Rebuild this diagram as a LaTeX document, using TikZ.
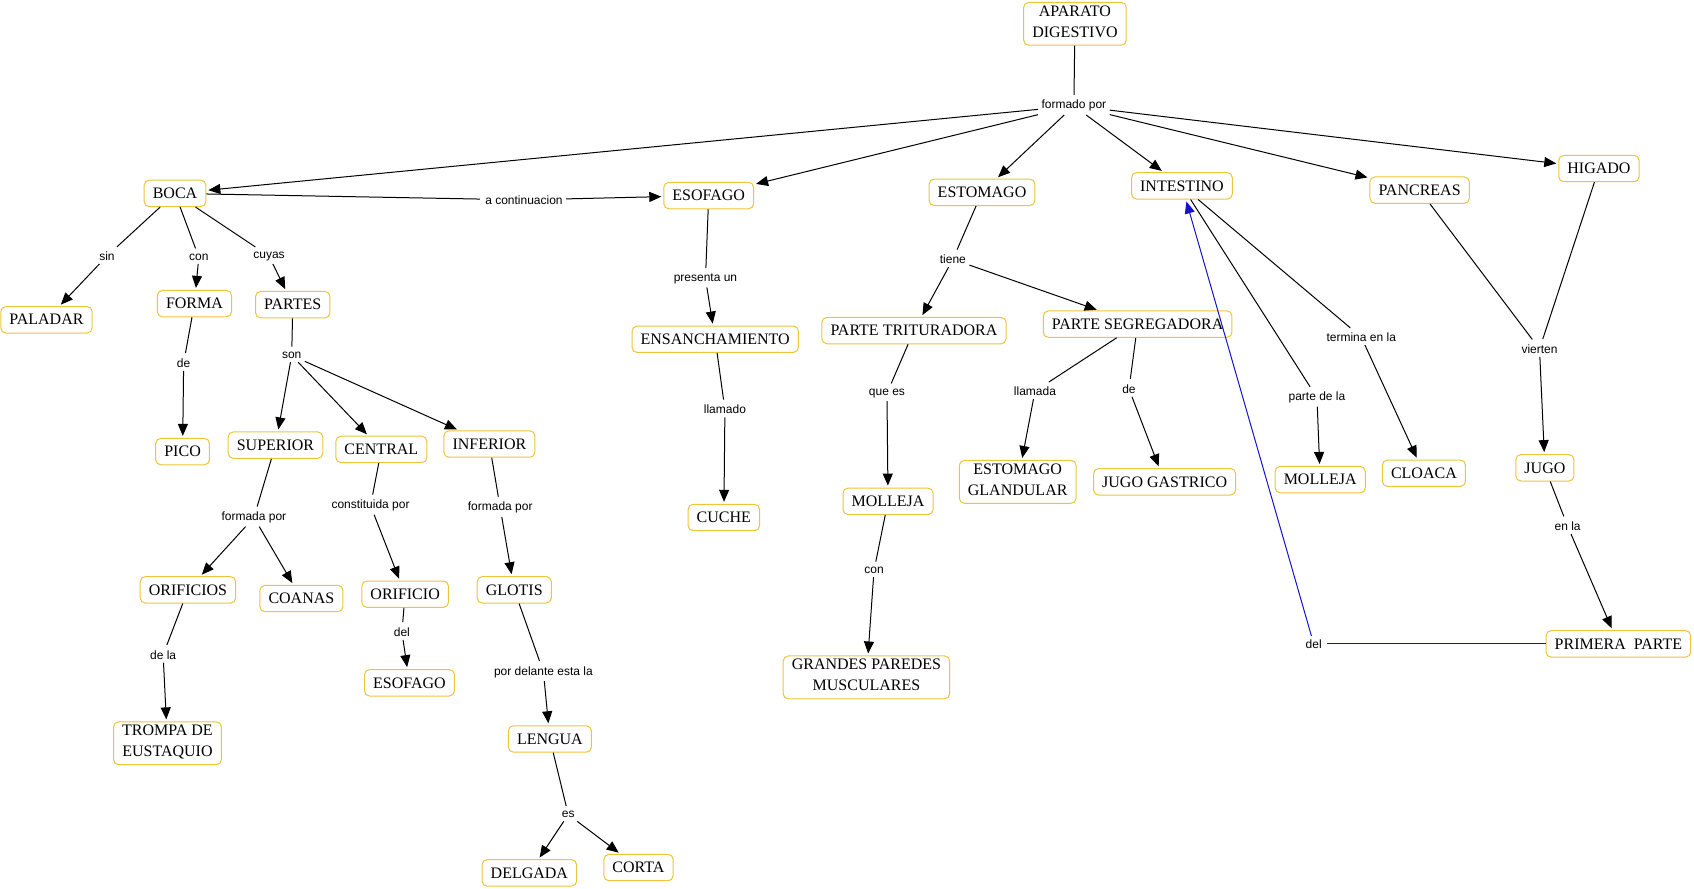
\documentclass[tikz,border=0pt]{standalone}
\usepackage{fontspec}
\setmainfont{Liberation Serif}
\setsansfont{Liberation Sans}
\usetikzlibrary{arrows.meta}
\definecolor{conceptline}{RGB}{238,196,58}
\definecolor{crosslink}{RGB}{20,20,200}
\newcommand{\boxstrut}{\rule[-2.4pt]{0pt}{10pt}}

\tikzset{
  concept/.style={draw=conceptline,rounded corners=2.5pt,fill=white,align=center,
    font=\fontsize{8}{10.5}\selectfont,inner xsep=4.3pt,inner ysep=1.6pt,
    execute at begin node=\boxstrut,execute at end node=\boxstrut},
  link/.style={fill=white,font=\sffamily\fontsize{6}{7}\selectfont,inner sep=1.5pt}
}

\begin{document}
\begin{tikzpicture}[x=0.54pt,y=-0.54pt,>={Triangle[length=6pt,width=5pt]},shorten >=1pt,line width=0.5pt]
  \useasboundingbox (0,0) rectangle (1568,822);
  % concepts
  \node[concept] (aparato)   at (995,22)   {APARATO\\DIGESTIVO};
  \node[concept] (boca)      at (162,179)  {BOCA};
  \node[concept] (esofago)   at (656,181)  {ESOFAGO};
  \node[concept] (estomago)  at (909,178)  {ESTOMAGO};
  \node[concept] (intestino) at (1094,172) {INTESTINO};
  \node[concept] (pancreas)  at (1314,176) {PANCREAS};
  \node[concept] (higado)    at (1480,156) {HIGADO};
  \node[concept] (paladar)   at (43,296)   {PALADAR};
  \node[concept] (forma)     at (180,281)  {FORMA};
  \node[concept] (partes)    at (271,282)  {PARTES};
  \node[concept] (pico)      at (169,418)  {PICO};
  \node[concept] (superior)  at (255,412)  {SUPERIOR};
  \node[concept] (central)   at (353,416)  {CENTRAL};
  \node[concept] (inferior)  at (453,411)  {INFERIOR};
  \node[concept] (orificios) at (174,546)  {ORIFICIOS};
  \node[concept] (coanas)    at (279,554)  {COANAS};
  \node[concept] (orificio)  at (375,550)  {ORIFICIO};
  \node[concept] (esofagob)  at (379,632)  {ESOFAGO};
  \node[concept] (glotis)    at (476,546)  {GLOTIS};
  \node[concept] (trompa)    at (155,688)  {TROMPA DE\\EUSTAQUIO};
  \node[concept] (lengua)    at (509,684)  {LENGUA};
  \node[concept] (delgada)   at (490,808)  {DELGADA};
  \node[concept] (corta)     at (591,803)  {CORTA};
  \node[concept] (ensanch)   at (662,314)  {ENSANCHAMIENTO};
  \node[concept] (cuche)     at (670,479)  {CUCHE};
  \node[concept] (tritura)   at (846,306)  {PARTE TRITURADORA};
  \node[concept] (segrega)   at (1053,300) {PARTE SEGREGADORA};
  \node[concept] (molleja)   at (822,464)  {MOLLEJA};
  \node[concept] (paredes)   at (802,627)  {GRANDES PAREDES\\MUSCULARES};
  \node[concept] (glandular) at (942,446)  {ESTOMAGO\\GLANDULAR};
  \node[concept] (gastrico)  at (1078,446) {JUGO GASTRICO};
  \node[concept] (mollejab)  at (1222,444) {MOLLEJA};
  \node[concept] (cloaca)    at (1318,438) {CLOACA};
  \node[concept] (jugo)      at (1430,433) {JUGO};
  \node[concept] (primera)   at (1498,596) {PRIMERA~~PARTE};
  % linking phrases
  \node[link] (formado)  at (994,98)   {formado por};
  \node[link] (acont)    at (485,185)  {a continuacion};
  \node[link] (sin)      at (99,237)   {sin};
  \node[link] (con)      at (184,238)  {con};
  \node[link] (cuyas)    at (249,237)  {cuyas};
  \node[link] (de)       at (170,336)  {de};
  \node[link] (son)      at (270,329)  {son};
  \node[link] (formsup)  at (235,479)  {formada por};
  \node[link] (constit)  at (343,468)  {constituida por};
  \node[link] (forminf)  at (463,470)  {formada por};
  \node[link] (dela)     at (151,606)  {de la};
  \node[link] (del)      at (372,585)  {del};
  \node[link] (delante)  at (503,622)  {por delante esta la};
  \node[link] (es)       at (526,754)  {es};
  \node[link] (presenta) at (653,258)  {presenta un};
  \node[link] (llamado)  at (671,379)  {llamado};
  \node[link] (tiene)    at (882,240)  {tiene};
  \node[link] (quees)    at (821,364)  {que es};
  \node[link] (conb)     at (809,528)  {con};
  \node[link] (llamada)  at (958,362)  {llamada};
  \node[link] (deb)      at (1045,360) {de};
  \node[link] (partede)  at (1219,368) {parte de la};
  \node[link] (termina)  at (1260,312) {termina en la};
  \node[link] (vierten)  at (1425,323) {vierten};
  \node[link] (enla)     at (1451,487) {en la};
  \node[link] (delb)     at (1216,596) {del};
\tikzset{mystyle/.style={}}
\path
      (aparato)  edge [mystyle] (formado)
      (boca)     edge [mystyle] (acont)
      (boca)     edge [mystyle] (sin)
      (boca)     edge [mystyle] (con)
      (boca)     edge [mystyle] (cuyas)
      (forma)    edge [mystyle] (de)
      (partes)   edge [mystyle] (son)
      (superior) edge [mystyle] (formsup)
      (central)  edge [mystyle] (constit)
      (inferior) edge [mystyle] (forminf)
      (orificios) edge [mystyle] (dela)
      (orificio) edge [mystyle] (del)
      (glotis)   edge [mystyle] (delante)
      (lengua)   edge [mystyle] (es)
      (esofago)  edge [mystyle] (presenta)
      (ensanch)  edge [mystyle] (llamado)
      (estomago) edge [mystyle] (tiene)
      (tritura)  edge [mystyle] (quees)
      (molleja)  edge [mystyle] (conb)
      (segrega)  edge [mystyle] (llamada)
      (segrega)  edge [mystyle] (deb)
      (intestino) edge [mystyle] (partede)
      (intestino) edge [mystyle] (termina)
      (pancreas) edge [mystyle] (vierten)
      (higado)   edge [mystyle] (vierten)
      (jugo)     edge [mystyle] (enla);
\tikzset{mystyle/.style={->}}
\path
      (formado)  edge [mystyle] (boca)
      (formado)  edge [mystyle] (esofago)
      (formado)  edge [mystyle] (estomago)
      (formado)  edge [mystyle] (intestino)
      (formado)  edge [mystyle] (pancreas)
      (formado)  edge [mystyle] (higado)
      (acont)    edge [mystyle] (esofago)
      (sin)      edge [mystyle] (paladar)
      (con)      edge [mystyle] (forma)
      (cuyas)    edge [mystyle] (partes)
      (de)       edge [mystyle] (pico)
      (son)      edge [mystyle] (superior)
      (son)      edge [mystyle] (central)
      (son)      edge [mystyle] (inferior)
      (formsup)  edge [mystyle] (orificios)
      (formsup)  edge [mystyle] (coanas)
      (constit)  edge [mystyle] (orificio)
      (forminf)  edge [mystyle] (glotis)
      (dela)     edge [mystyle] (trompa)
      (del)      edge [mystyle] (esofagob)
      (delante)  edge [mystyle] (lengua)
      (es)       edge [mystyle] (delgada)
      (es)       edge [mystyle] (corta)
      (presenta) edge [mystyle] (ensanch)
      (llamado)  edge [mystyle] (cuche)
      (tiene)    edge [mystyle] (tritura)
      (tiene)    edge [mystyle] (segrega)
      (quees)    edge [mystyle] (molleja)
      (conb)     edge [mystyle] (paredes)
      (llamada)  edge [mystyle] (glandular)
      (deb)      edge [mystyle] (gastrico)
      (partede)  edge [mystyle] (mollejab)
      (termina)  edge [mystyle] (cloaca)
      (vierten)  edge [mystyle] (jugo)
      (enla)     edge [mystyle] (primera);
\tikzset{mystyle/.style={draw=crosslink}}
\path
      (primera)  edge [mystyle]     (delb)
      (delb)     edge [mystyle,->]  (intestino);
\end{tikzpicture}
\end{document}
